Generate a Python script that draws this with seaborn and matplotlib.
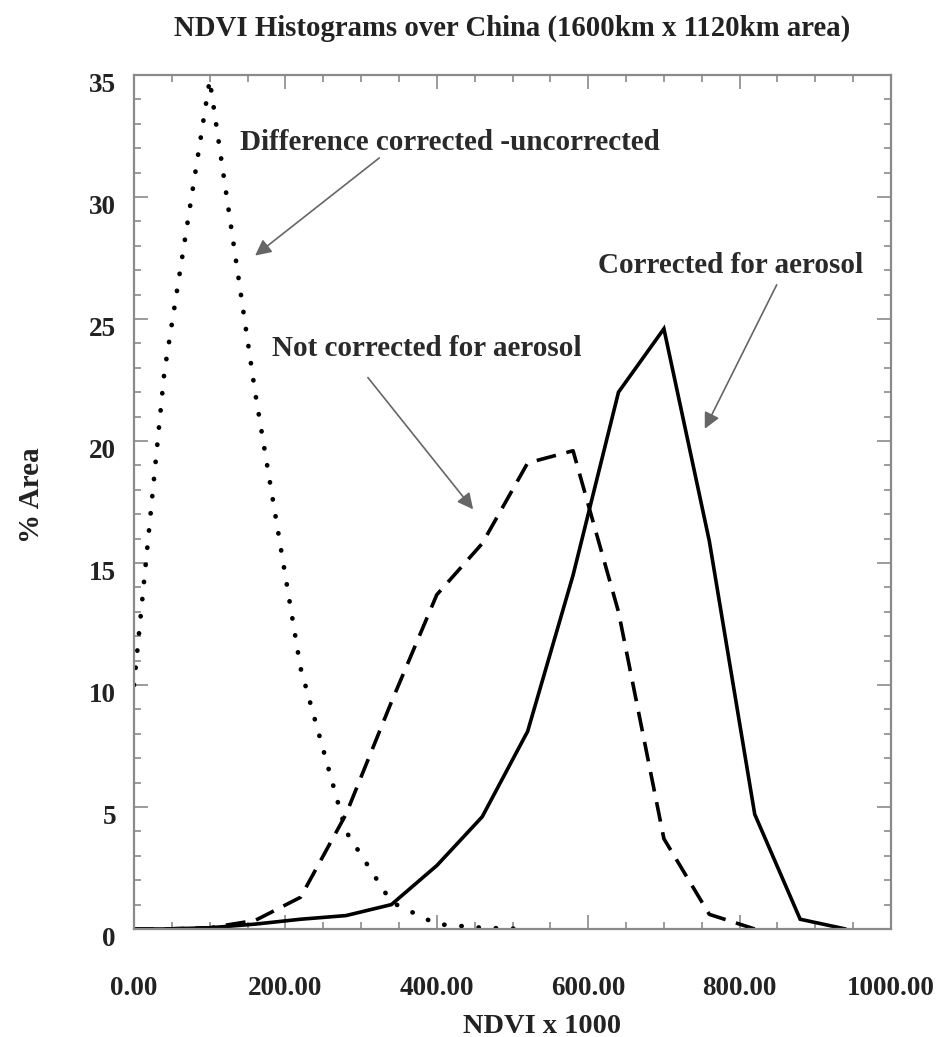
import numpy as np
import pandas as pd
import matplotlib
matplotlib.use("Agg")
import matplotlib.pyplot as plt
import matplotlib.transforms as mtransforms
from matplotlib.ticker import MultipleLocator, FormatStrFormatter
import seaborn as sns

# ---- data ----
ndvi = [0, 40, 100, 160, 220, 280, 340, 400, 460, 520, 580, 640, 700, 760, 820, 880, 940]
corrected = [0.0, 0.0, 0.05, 0.2, 0.4, 0.55, 1.0, 2.6, 4.6, 8.1, 14.5, 22.0, 24.6, 15.9, 4.7, 0.4, 0.0]
not_corrected = [0.0, 0.0, 0.05, 0.35, 1.3, 4.7, 9.3, 13.7, 15.8, 19.1, 19.6, 13.0, 3.7, 0.6, 0.0, np.nan, np.nan]
difference = [10.0, 22.8, 34.8, 22.0, 10.7, 4.0, 1.1, 0.2, 0.05, 0.0, np.nan, np.nan, np.nan, np.nan, np.nan, np.nan, np.nan]

title = "NDVI Histograms over China (1600km x 1120km area)"
xlabel = "NDVI x 1000"
ylabel = "% Area"
label_diff = "Difference corrected -uncorrected"
label_not = "Not corrected for aerosol"
label_corr = "Corrected for aerosol"

sns.set_theme(style="ticks")
plt.rcParams["font.family"] = ["Liberation Serif", "DejaVu Serif"]
plt.rcParams["font.weight"] = "bold"

fig = plt.figure(figsize=(9.4, 10.37), dpi=100)
ax = fig.add_axes([134 / 940, 1 - 929 / 1037, (891 - 134) / 940, (929 - 75) / 1037])

df = pd.DataFrame({"ndvi": ndvi, "corrected": corrected,
                   "not_corrected": not_corrected, "difference": difference})

sns.lineplot(data=df, x="ndvi", y="corrected", ax=ax, color="black", lw=2.6,
             solid_joinstyle="miter")
sns.lineplot(data=df, x="ndvi", y="not_corrected", ax=ax, color="black", lw=2.6,
             linestyle=(0, (5.5, 3.0)))
sns.lineplot(data=df, x="ndvi", y="difference", ax=ax, color="black", lw=3.4,
             linestyle=(0, (0.05, 3.6)), dash_capstyle="round")

ax.set_xlim(0, 1000)
ax.set_ylim(0, 35)
ax.xaxis.set_major_locator(MultipleLocator(200))
ax.xaxis.set_minor_locator(MultipleLocator(50))
ax.yaxis.set_major_locator(MultipleLocator(5))
ax.yaxis.set_minor_locator(MultipleLocator(1))
ax.xaxis.set_major_formatter(FormatStrFormatter("%.2f"))
ax.yaxis.set_major_formatter(FormatStrFormatter("%d"))

spine_col = "#8a8a8a"
for s in ax.spines.values():
    s.set_visible(True)
    s.set_color(spine_col)
    s.set_linewidth(1.6)

ax.tick_params(which="both", direction="in", top=True, right=True, color=spine_col, width=1.2)
ax.tick_params(which="major", length=10)
ax.tick_params(which="minor", length=5)
ax.tick_params(axis="x", which="major", pad=34, labelsize=19.5, labelcolor="#222222")
ax.tick_params(axis="y", which="major", pad=13, labelsize=19.5, labelcolor="#222222")

# y tick labels sit slightly below their ticks in the reference
offset = mtransforms.ScaledTranslation(0, -7 / 100, fig.dpi_scale_trans)
for lab in ax.yaxis.get_majorticklabels():
    lab.set_transform(lab.get_transform() + offset)
for lab in ax.get_xticklabels() + ax.get_yticklabels():
    lab.set_fontweight("bold")

ax.set_xlabel(xlabel, fontsize=20.4, fontweight="bold", color="#222222")
ax.xaxis.set_label_coords(0.539, -0.099)
ax.set_ylabel(ylabel, fontsize=21, fontweight="bold", color="#222222")
ax.yaxis.set_label_coords(-0.117, 0.508)
ax.set_title(title, fontsize=20.7, fontweight="bold", color="#222222", pad=28)

txt_kw = dict(fontsize=21, fontweight="bold", color="#2a2a2a", va="center", ha="left")
ax.text(140, 32.25, label_diff, **txt_kw)
ax.text(182, 23.8, label_not, **txt_kw)
ax.text(613, 27.2, label_corr, **txt_kw)

arr = dict(arrowstyle="-|>", color="#666666", lw=1.2, mutation_scale=24, shrinkA=0, shrinkB=0)
ax.annotate("", xy=(160, 27.6), xytext=(324, 31.6), arrowprops=arr)
ax.annotate("", xy=(448, 17.2), xytext=(309, 22.6), arrowprops=arr)
ax.annotate("", xy=(754, 20.5), xytext=(849, 26.4), arrowprops=arr)

fig.savefig("out.png", dpi=100, facecolor="white")
